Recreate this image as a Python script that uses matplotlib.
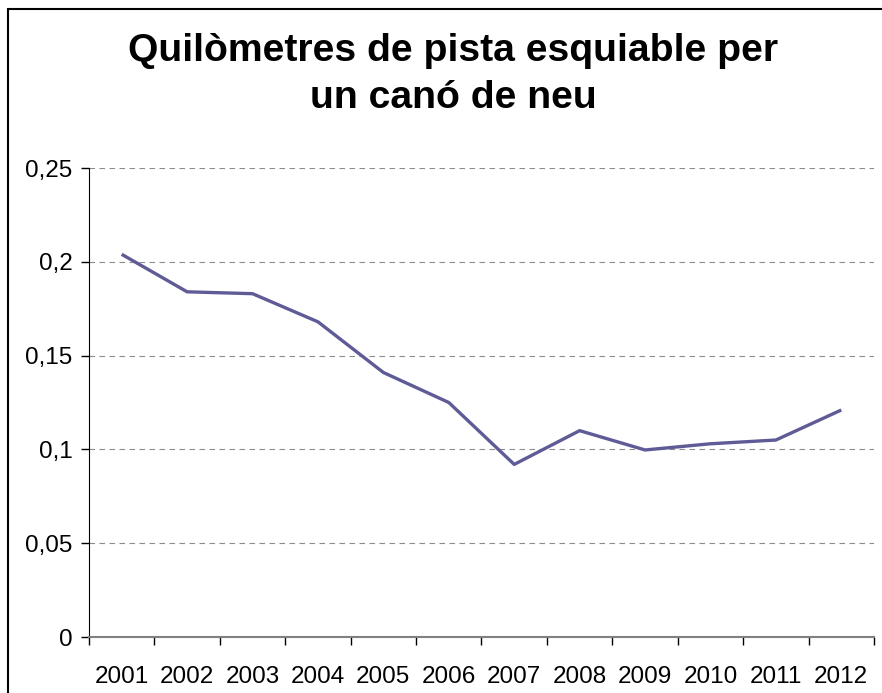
import numpy as np
import matplotlib.pyplot as plt
from matplotlib.patches import Rectangle
from matplotlib.ticker import FuncFormatter, FixedLocator

years = ["2001", "2002", "2003", "2004", "2005", "2006",
         "2007", "2008", "2009", "2010", "2011", "2012"]
km_per_cano = [0.204, 0.184, 0.183, 0.168, 0.141, 0.125,
               0.092, 0.110, 0.0997, 0.103, 0.105, 0.121]
title_lines = ["Quilòmetres de pista esquiable per", "un canó de neu"]

plt.rcParams['font.family'] = ['Liberation Sans', 'DejaVu Sans']

fig = plt.figure(figsize=(8.82, 6.93), dpi=100)
W, H = 882, 693
ax = fig.add_axes([89 / W, 1 - 637 / H, (874 - 89) / W, (637 - 168) / H])

x = np.arange(len(years))
ax.plot(x, km_per_cano, color="#5f5b97", lw=2.4, solid_capstyle="butt")

ax.set_xlim(-0.5, len(years) - 0.5)
ax.set_ylim(0, 0.25)
ax.set_yticks([0, 0.05, 0.1, 0.15, 0.2, 0.25])
ax.yaxis.set_major_formatter(FuncFormatter(
    lambda v, p: "0" if v == 0 else f"{v:g}".replace(".", ",")))
ax.grid(axis="y", color="#8c8c8c", linestyle=(0, (5, 4)), lw=0.8)
ax.set_axisbelow(True)

# category ticks between labels, labels at centres
ax.xaxis.set_major_locator(FixedLocator(np.arange(-0.5, len(years), 1)))
ax.xaxis.set_major_formatter(FuncFormatter(lambda v, p: ""))
ax.xaxis.set_minor_locator(FixedLocator(x))
ax.set_xticklabels(years, minor=True)
ax.tick_params(axis="x", which="minor", length=0, labelsize=17.5, pad=21)
ax.tick_params(axis="x", which="major", length=5.5, width=1, color="#000000")
ax.tick_params(axis="y", length=6, width=1, labelsize=17.5, pad=6)

for s in ["top", "right"]:
    ax.spines[s].set_visible(False)
ax.spines["left"].set_color("#000000")
ax.spines["bottom"].set_color("#808080")
ax.spines["bottom"].set_linewidth(1.5)

# title: two lines placed by baseline
for line, base in zip(title_lines, [61, 108]):
    fig.text(453 / W, 1 - base / H, line, ha="center", va="baseline",
             fontsize=28.2, fontweight="bold")

fig.patches.append(Rectangle((8 / W, -0.1), 1.0, 1.1 - 9 / H, transform=fig.transFigure,
                             fill=False, edgecolor="black", lw=1.5, clip_on=False))

plt.savefig("out.png", dpi=100)
